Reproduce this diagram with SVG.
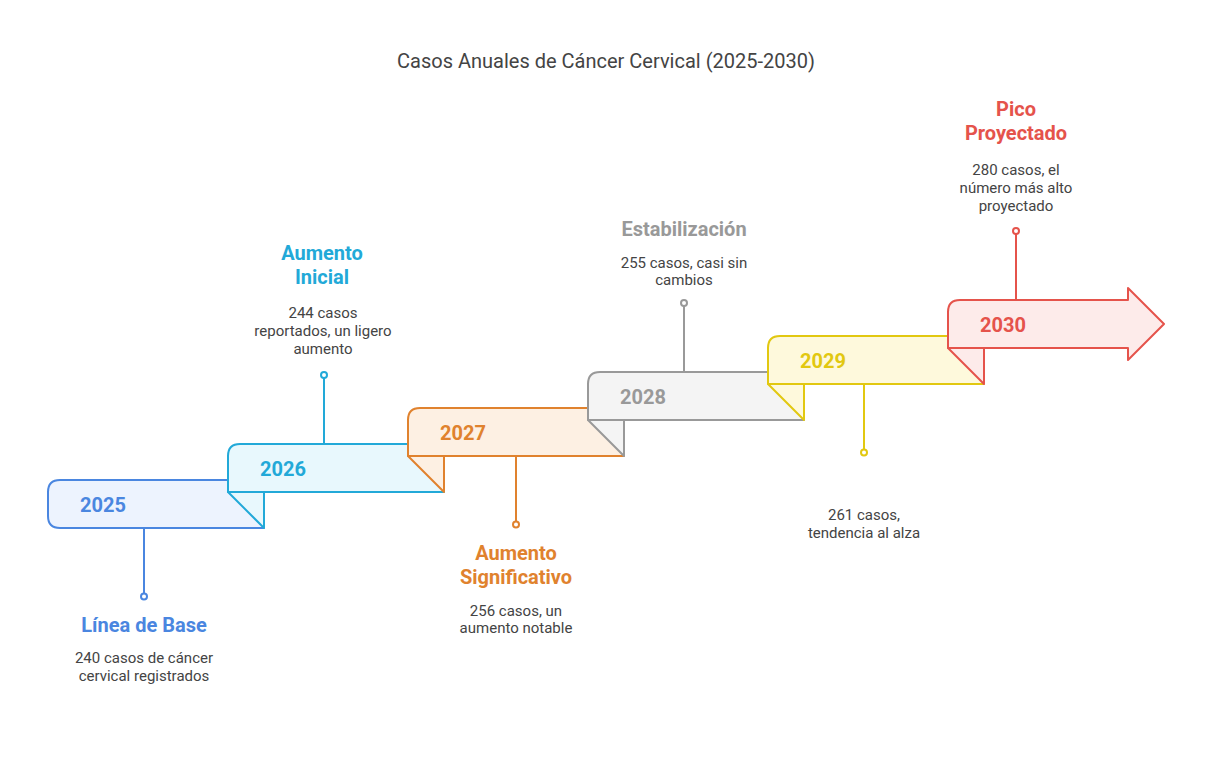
<svg xmlns="http://www.w3.org/2000/svg" width="1212" height="776" viewBox="0 0 1212 776">
<style>
.title{font-family:Roboto,"Liberation Sans",sans-serif;font-size:20px;fill:#444;text-anchor:middle}
.yr{font-family:Roboto,"Liberation Sans",sans-serif;font-size:20px;font-weight:bold}
.lt{font-family:Roboto,"Liberation Sans",sans-serif;font-size:20px;font-weight:bold;text-anchor:middle}
.ds{font-family:Roboto,"Liberation Sans",sans-serif;font-size:15px;fill:#444;text-anchor:middle}
.sh{stroke-width:2;stroke-linejoin:round}
.dot{fill:#fff;stroke-width:2}
.ln{stroke-width:2;fill:none}
</style>
<rect width="1212" height="776" fill="#fff"/>
<text class="title" x="606" y="68">Casos Anuales de Cáncer Cervical (2025-2030)</text>
<g id="connectors">
<line class="ln" x1="144" y1="528" x2="144" y2="593" stroke="#4A86E0"/>
<circle class="dot" cx="144" cy="596.5" r="3" stroke="#4A86E0"/>
<line class="ln" x1="324" y1="444" x2="324" y2="378" stroke="#22A9D8"/>
<circle class="dot" cx="324" cy="375" r="3" stroke="#22A9D8"/>
<line class="ln" x1="516" y1="456" x2="516" y2="521.5" stroke="#E0822E"/>
<circle class="dot" cx="516" cy="524.5" r="3" stroke="#E0822E"/>
<line class="ln" x1="684" y1="372" x2="684" y2="306" stroke="#999"/>
<circle class="dot" cx="684" cy="303" r="3" stroke="#999"/>
<line class="ln" x1="864" y1="384" x2="864" y2="449.5" stroke="#E2C810"/>
<circle class="dot" cx="864" cy="452.5" r="3" stroke="#E2C810"/>
<line class="ln" x1="1016" y1="300" x2="1016" y2="234" stroke="#E5534B"/>
<circle class="dot" cx="1016" cy="231" r="3" stroke="#E5534B"/>
</g>
<g id="n2025">
<path class="sh" d="M60,480 H264 V528 H60 Q48,528 48,516 V492 Q48,480 60,480 Z" fill="#EDF3FE" stroke="#4A86E0"/>
<text class="yr" x="80" y="512" fill="#4A86E0">2025</text>
<text class="lt" x="144" y="632" fill="#4A86E0">Línea de Base</text>
<text class="ds" x="144" y="663">240 casos de cáncer</text>
<text class="ds" x="144" y="681">cervical registrados</text>
</g>
<g id="n2026">
<path class="sh" d="M240,444 H444 V492 H228 V456 Q228,444 240,444 Z" fill="#E8F8FD" stroke="#22A9D8"/>
<path class="sh" d="M228,492 H264 V528 Z" fill="#E8F8FD" stroke="#22A9D8"/>
<text class="yr" x="260" y="476" fill="#22A9D8">2026</text>
<text class="lt" x="322" y="260" fill="#22A9D8">Aumento</text>
<text class="lt" x="322" y="284" fill="#22A9D8">Inicial</text>
<text class="ds" x="323" y="317.5">244 casos</text>
<text class="ds" x="323" y="335.5">reportados, un ligero</text>
<text class="ds" x="323" y="353.5">aumento</text>
</g>
<g id="n2027">
<path class="sh" d="M420,408 H624 V456 H408 V420 Q408,408 420,408 Z" fill="#FDF0E3" stroke="#E0822E"/>
<path class="sh" d="M408,456 H444 V492 Z" fill="#FDF0E3" stroke="#E0822E"/>
<text class="yr" x="440" y="440" fill="#E0822E">2027</text>
<text class="lt" x="516" y="560" fill="#E0822E">Aumento</text>
<text class="lt" x="516" y="584" fill="#E0822E">Significativo</text>
<text class="ds" x="516" y="615.5">256 casos, un</text>
<text class="ds" x="516" y="633">aumento notable</text>
</g>
<g id="n2028">
<path class="sh" d="M600,372 H804 V420 H588 V384 Q588,372 600,372 Z" fill="#F4F4F4" stroke="#999"/>
<path class="sh" d="M588,420 H624 V456 Z" fill="#F4F4F4" stroke="#999"/>
<text class="yr" x="620" y="404" fill="#999">2028</text>
<text class="lt" x="684" y="236" fill="#999">Estabilización</text>
<text class="ds" x="684" y="267.5">255 casos, casi sin</text>
<text class="ds" x="684" y="285">cambios</text>
</g>
<g id="n2029">
<path class="sh" d="M780,336 H984 V384 H768 V348 Q768,336 780,336 Z" fill="#FEF9DC" stroke="#E2C810"/>
<path class="sh" d="M768,384 H804 V420 Z" fill="#FEF9DC" stroke="#E2C810"/>
<text class="yr" x="800" y="368" fill="#E2C810">2029</text>
<text class="ds" x="864" y="519.5">261 casos,</text>
<text class="ds" x="864" y="537.5">tendencia al alza</text>
</g>
<g id="n2030">
<path class="sh" d="M960,300 H1128 V288 L1164,324 L1128,360 V348 H948 V312 Q948,300 960,300 Z" fill="#FDEBEA" stroke="#E5534B"/>
<path class="sh" d="M948,348 H984 V384 Z" fill="#FDEBEA" stroke="#E5534B"/>
<text class="yr" x="980" y="332" fill="#E5534B">2030</text>
<text class="lt" x="1016" y="116" fill="#E5534B">Pico</text>
<text class="lt" x="1016" y="140" fill="#E5534B">Proyectado</text>
<text class="ds" x="1016" y="174.5">280 casos, el</text>
<text class="ds" x="1016" y="192.5">número más alto</text>
<text class="ds" x="1016" y="210.5">proyectado</text>
</g>
</svg>
